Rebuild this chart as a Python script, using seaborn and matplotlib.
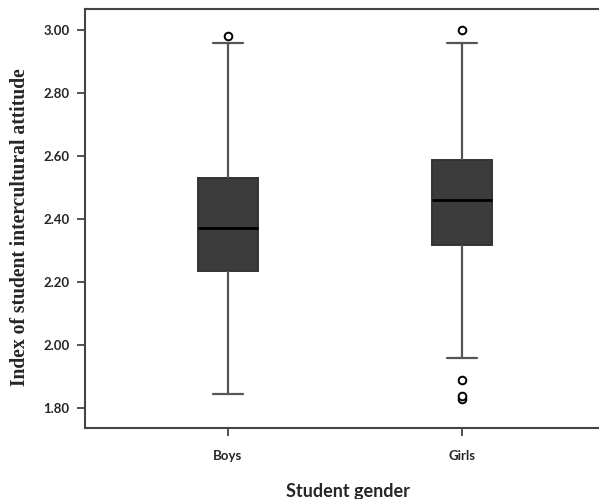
import pandas as pd
import matplotlib
matplotlib.use('Agg')
import matplotlib.pyplot as plt
import seaborn as sns

boys = [1.844, 2.236, 2.236, 2.372, 2.372, 2.531, 2.531, 2.96, 2.98]
girls = [1.83, 1.84, 1.889, 1.96, 2.317, 2.317, 2.317, 2.46, 2.46, 2.46,
         2.587, 2.587, 2.587, 2.96, 2.96, 2.96, 3.00]
groups = ['Boys', 'Girls']
yticks = [1.80, 2.00, 2.20, 2.40, 2.60, 2.80, 3.00]

df = pd.DataFrame({'gender': ['Boys'] * len(boys) + ['Girls'] * len(girls),
                   'value': boys + girls})

sns.set_style('white')
plt.rcParams['font.family'] = ['Lato', 'DejaVu Sans']

fig = plt.figure(figsize=(5.99, 4.99), dpi=100)
ax = fig.add_axes([85 / 599, 71 / 499, 525 / 599, 419 / 499])

sns.boxplot(data=df, x='gender', y='value', order=groups, ax=ax, width=0.255,
            color='#3c3c3c', linecolor='#333333', linewidth=1.4,
            saturation=1,
            medianprops=dict(color='black', linewidth=2),
            whiskerprops=dict(color='#555555', linewidth=1.6),
            capprops=dict(color='#555555', linewidth=1.6),
            flierprops=dict(marker='o', markersize=5.5, markerfacecolor='white',
                            markeredgecolor='black', markeredgewidth=1.4))

ax.set_xlim(-0.61, 1.63)
ax.set_ylim(1.737, 3.067)
ax.set_yticks(yticks)
ax.set_yticklabels(['%.2f' % v for v in yticks])
ax.tick_params(axis='both', direction='out', length=6, width=1.3, color='#444444',
               left=True, bottom=True, labelsize=9.5)
for lab in ax.get_xticklabels() + ax.get_yticklabels():
    lab.set_fontweight('bold')
ax.tick_params(axis='x', pad=10)
ax.tick_params(axis='y', pad=5)

for s in ax.spines.values():
    s.set_color('#444444')
    s.set_linewidth(1.5)

ax.set_xlabel('Student gender', fontsize=13, fontweight='bold', labelpad=15)
ax.set_ylabel('Index of student intercultural attitude', fontsize=14.1,
              fontweight='bold', family=['Liberation Serif'])
ax.yaxis.set_label_coords(-0.105, 0.479)

fig.savefig('out.png', dpi=100)
